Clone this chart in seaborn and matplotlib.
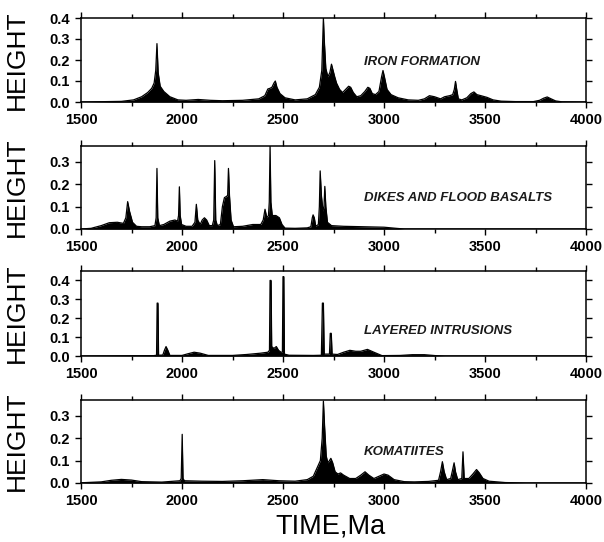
import numpy as np
import seaborn as sns
import matplotlib.pyplot as plt
from matplotlib.ticker import MultipleLocator

# Iron formation
iron_t = [1500, 1700, 1760, 1800, 1830, 1850, 1862, 1870, 1876, 1882, 1892, 1910, 1940, 1980,
          2020, 2080, 2140, 2200, 2300, 2380, 2410, 2425, 2435, 2445, 2455, 2462, 2470, 2485,
          2510, 2560, 2620, 2660, 2680, 2692, 2700, 2704, 2712, 2722, 2732, 2740, 2748, 2756,
          2765, 2780, 2795, 2810, 2825, 2835, 2848, 2865, 2885, 2905, 2920, 2930, 2942, 2958,
          2975, 2988, 2995, 3002, 3015, 3035, 3070, 3120, 3170, 3200, 3225, 3250, 3280, 3300,
          3325, 3340, 3348, 3354, 3360, 3368, 3385, 3410, 3430, 3445, 3460, 3480, 3510, 3540,
          3580, 3650, 3740, 3770, 3790, 3808, 3825, 3850, 3880, 4000]
iron_h = [0.0, 0.003, 0.01, 0.025, 0.045, 0.065, 0.09, 0.15, 0.278, 0.14, 0.075, 0.05, 0.025, 0.01,
          0.008, 0.012, 0.008, 0.006, 0.008, 0.015, 0.03, 0.062, 0.065, 0.07, 0.09, 0.10, 0.07, 0.04,
          0.02, 0.01, 0.015, 0.035, 0.07, 0.15, 0.40, 0.30, 0.16, 0.12, 0.14, 0.18, 0.15, 0.12,
          0.09, 0.06, 0.045, 0.06, 0.075, 0.07, 0.045, 0.025, 0.03, 0.05, 0.07, 0.065, 0.04, 0.035,
          0.05, 0.12, 0.15, 0.12, 0.06, 0.035, 0.02, 0.01, 0.008, 0.015, 0.03, 0.025, 0.015, 0.025,
          0.03, 0.035, 0.06, 0.098, 0.06, 0.015, 0.01, 0.02, 0.04, 0.048, 0.035, 0.03, 0.022, 0.01,
          0.004, 0.002, 0.002, 0.008, 0.018, 0.024, 0.016, 0.005, 0.001, 0.0]

# Dikes and flood basalts
dike_t = [1500, 1550, 1600, 1640, 1680, 1710, 1722, 1731, 1740, 1755, 1775, 1800, 1840, 1866,
          1872, 1876, 1880, 1888, 1910, 1940, 1965, 1978, 1983, 1987, 1991, 1998, 2020, 2050,
          2064, 2071, 2078, 2090, 2100, 2111, 2122, 2135, 2150, 2157, 2162, 2167, 2175, 2190,
          2200, 2210, 2220, 2226, 2230, 2235, 2243, 2255, 2300, 2350, 2390, 2402, 2411, 2420,
          2428, 2432, 2436, 2440, 2447, 2465, 2482, 2495, 2510, 2560, 2620, 2638, 2645, 2649,
          2655, 2662, 2675, 2680, 2684, 2690, 2698, 2703, 2707, 2712, 2720, 2740, 2800, 2900,
          3000, 3060, 3100, 4000]
dike_h = [0.0, 0.003, 0.015, 0.028, 0.03, 0.025, 0.05, 0.122, 0.08, 0.03, 0.012, 0.01, 0.01, 0.015,
          0.05, 0.27, 0.05, 0.015, 0.02, 0.035, 0.04, 0.035, 0.06, 0.188, 0.06, 0.02, 0.012, 0.012,
          0.03, 0.11, 0.04, 0.02, 0.04, 0.05, 0.04, 0.015, 0.015, 0.04, 0.305, 0.04, 0.015, 0.02,
          0.10, 0.14, 0.145, 0.15, 0.27, 0.15, 0.04, 0.01, 0.012, 0.02, 0.02, 0.04, 0.088, 0.05,
          0.06, 0.12, 0.37, 0.12, 0.06, 0.06, 0.05, 0.02, 0.004, 0.003, 0.005, 0.01, 0.05, 0.063,
          0.05, 0.012, 0.02, 0.10, 0.259, 0.15, 0.08, 0.10, 0.19, 0.10, 0.03, 0.015, 0.012, 0.01,
          0.008, 0.003, 0.0, 0.0]

# Layered intrusions
layer_t = [1500, 1860, 1874, 1877, 1881, 1884, 1905, 1913, 1921, 1930, 1940, 2000, 2030, 2060,
           2090, 2130, 2250, 2320, 2390, 2425, 2433, 2436, 2441, 2444, 2455, 2467, 2478, 2490,
           2497, 2500, 2504, 2507, 2530, 2650, 2690, 2695, 2700, 2704, 2730, 2734, 2739, 2743,
           2770, 2800, 2831, 2860, 2885, 2918, 2950, 2990, 3080, 3140, 3200, 3255, 3300, 4000]
layer_h = [0.0, 0.002, 0.004, 0.28, 0.28, 0.004, 0.005, 0.03, 0.05, 0.03, 0.003, 0.003, 0.012, 0.02,
           0.015, 0.003, 0.003, 0.008, 0.015, 0.02, 0.03, 0.40, 0.40, 0.05, 0.04, 0.05, 0.03, 0.02,
           0.02, 0.42, 0.42, 0.01, 0.004, 0.003, 0.004, 0.28, 0.28, 0.01, 0.01, 0.12, 0.12, 0.01,
           0.008, 0.02, 0.03, 0.025, 0.025, 0.035, 0.02, 0.002, 0.003, 0.007, 0.007, 0.002, 0.0, 0.0]

# Komatiites
koma_t = [1500, 1600, 1650, 1700, 1750, 1800, 1900, 1990, 1996, 2001, 2005, 2012, 2100, 2200,
          2300, 2400, 2480, 2560, 2620, 2650, 2670, 2685, 2694, 2700, 2706, 2714, 2722, 2730,
          2737, 2746, 2758, 2772, 2785, 2800, 2830, 2860, 2885, 2906, 2925, 2950, 2975, 3000,
          3020, 3050, 3100, 3150, 3220, 3270, 3280, 3289, 3298, 3310, 3330, 3340, 3347, 3354,
          3365, 3385, 3391, 3397, 3420, 3440, 3458, 3472, 3490, 3520, 3600, 3700, 4000]
koma_h = [0.001, 0.005, 0.012, 0.016, 0.013, 0.006, 0.004, 0.01, 0.02, 0.217, 0.02, 0.01, 0.008, 0.007,
          0.01, 0.015, 0.01, 0.008, 0.015, 0.03, 0.07, 0.10, 0.20, 0.365, 0.25, 0.12, 0.09, 0.10,
          0.11, 0.09, 0.05, 0.04, 0.045, 0.035, 0.02, 0.02, 0.035, 0.05, 0.035, 0.02, 0.03, 0.04,
          0.035, 0.015, 0.006, 0.005, 0.007, 0.012, 0.05, 0.095, 0.05, 0.015, 0.02, 0.06, 0.09, 0.05,
          0.015, 0.02, 0.139, 0.02, 0.02, 0.04, 0.06, 0.045, 0.02, 0.008, 0.002, 0.0, 0.0]

panel_names = ["IRON FORMATION", "DIKES AND FLOOD BASALTS", "LAYERED INTRUSIONS", "KOMATIITES"]
panel_ytop = [0.4, 0.37, 0.45, 0.37]
label_y = [0.192, 0.138, 0.132, 0.136]

sns.set_style("ticks")
plt.rcParams['font.family'] = ['Liberation Sans', 'DejaVu Sans']
plt.rcParams['text.color'] = 'black'
plt.rcParams['axes.labelcolor'] = 'black'
plt.rcParams['xtick.color'] = 'black'
plt.rcParams['ytick.color'] = 'black'

fig = plt.figure(figsize=(6.04, 5.42), dpi=100)

# axes boxes in pixels (top, bottom)
boxes = [(18, 102), (146, 229), (271, 356), (400, 483)]
series = [(iron_t, iron_h), (dike_t, dike_h), (layer_t, layer_h), (koma_t, koma_h)]

for i, ((top, bot), (t, h)) in enumerate(zip(boxes, series)):
    ax = fig.add_axes([81 / 604, 1 - bot / 542, 505 / 604, (bot - top) / 542])

    # Filled black curve
    ax.fill_between(t, h, 0, color="black", linewidth=0)
    sns.lineplot(x=t, y=h, ax=ax, color="black", linewidth=0.9, estimator=None, sort=False)

    ax.set_xlim(1500, 4000)
    ax.set_ylim(0, panel_ytop[i])
    ax.xaxis.set_major_locator(MultipleLocator(500))
    ax.xaxis.set_minor_locator(MultipleLocator(250))
    ax.yaxis.set_major_locator(MultipleLocator(0.1))
    ax.tick_params(which="both", direction="out", top=True, right=True, width=1.0,
                   labelsize=10.5, pad=4, color="black", labelcolor="black")
    ax.tick_params(which="major", length=4)
    ax.tick_params(which="minor", length=3)
    for lab in ax.get_xticklabels() + ax.get_yticklabels():
        lab.set_fontweight("bold")
    for sp in ax.spines.values():
        sp.set_linewidth(1.1)
        sp.set_color("black")

    ax.set_ylabel("HEIGHT", fontsize=19, color="black")
    ax.yaxis.set_label_coords(-0.103, 0.5)

    ax.text(2900, label_y[i], panel_names[i], fontsize=9.5, style="italic",
            fontweight="bold", va="center", ha="left", color="#1a1a1a")

    if i == 3:
        ax.set_xlabel("TIME,Ma", fontsize=19.5, color="black")
        ax.xaxis.set_label_coords(0.495, -0.37)
    else:
        ax.set_xlabel("")

fig.savefig("out.png", dpi=100)
